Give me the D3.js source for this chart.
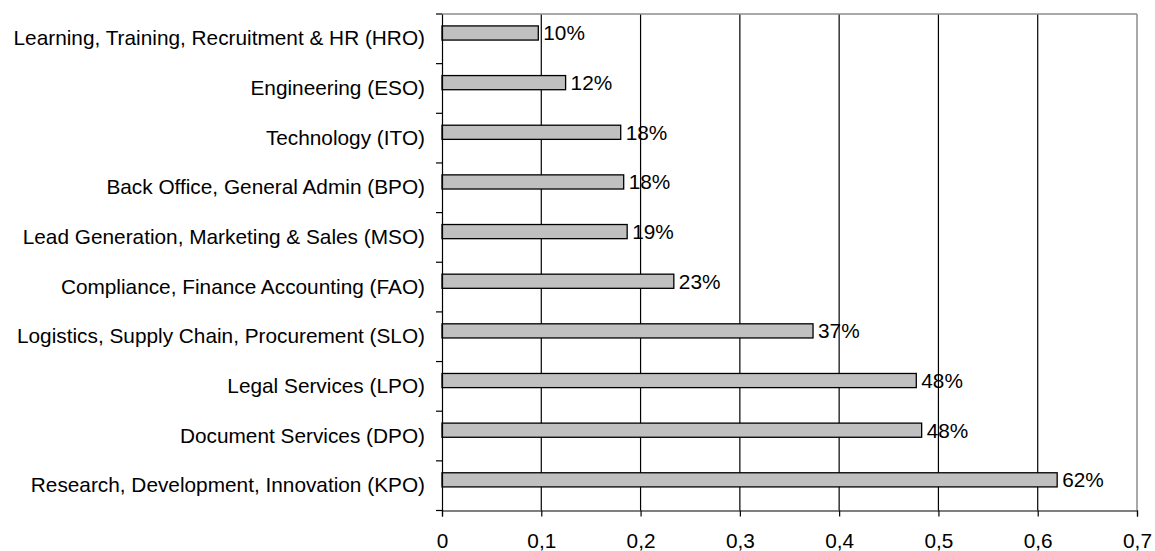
<!DOCTYPE html>
<html><head><meta charset="utf-8">
<script src="https://cdn.jsdelivr.net/npm/d3@7"></script>
<style>
html,body{margin:0;padding:0;background:#fff;}
svg text{font-family:"Liberation Sans",Arial,sans-serif;fill:#000;}
</style></head>
<body><svg id="c" width="1155" height="551"></svg>
<script>
const categories = [
  "Learning, Training, Recruitment & HR (HRO)",
  "Engineering (ESO)",
  "Technology (ITO)",
  "Back Office, General Admin (BPO)",
  "Lead Generation, Marketing & Sales (MSO)",
  "Compliance, Finance Accounting (FAO)",
  "Logistics, Supply Chain, Procurement (SLO)",
  "Legal Services (LPO)",
  "Document Services (DPO)",
  "Research, Development, Innovation (KPO)"
];
const values = [0.097, 0.1245, 0.180, 0.183, 0.1865, 0.2335, 0.3737, 0.4777, 0.4831, 0.6196];
const valueLabels = ["10%","12%","18%","18%","19%","23%","37%","48%","48%","62%"];
const xTicks = [0,0.1,0.2,0.3,0.4,0.5,0.6,0.7];
const xTickLabels = ["0","0,1","0,2","0,3","0,4","0,5","0,6","0,7"];

const L = 442, R = 1137, T = 14, B = 510.5;
const svg = d3.select("#c");
const x = d3.scaleLinear().domain([0,0.7]).range([L,R]);
const y = d3.scaleBand().domain(categories).range([T,B]);
const fs = 20.8;

// gridlines
svg.append("g").selectAll("line").data(xTicks.slice(1,-1)).join("line")
  .attr("x1",d=>x(d)).attr("x2",d=>x(d)).attr("y1",T).attr("y2",B)
  .attr("stroke","#000").attr("stroke-width",1.2);
// top & right border
svg.append("line").attr("x1",L).attr("x2",R).attr("y1",T).attr("y2",T).attr("stroke","#8c8c8c").attr("stroke-width",1.5);
svg.append("line").attr("x1",R).attr("x2",R).attr("y1",T).attr("y2",B).attr("stroke","#8c8c8c").attr("stroke-width",1.5);

// bars
const bw = y.bandwidth();
svg.append("g").selectAll("rect").data(values).join("rect")
  .attr("x",x(0)).attr("y",(d,i)=>y(categories[i])+bw*0.24)
  .attr("width",d=>x(d)-x(0)).attr("height",bw*0.285)
  .attr("fill","#c0c0c0").attr("stroke","#000").attr("stroke-width",1.3);

// value labels
svg.append("g").selectAll("text").data(values).join("text")
  .attr("x",d=>x(d)+5).attr("y",(d,i)=>y(categories[i])+bw*0.3825)
  .attr("dy","0.36em").attr("font-size",fs).text((d,i)=>valueLabels[i]);

// x axis
const xAxis = d3.axisBottom(x).tickValues(xTicks).tickFormat((d,i)=>xTickLabels[i]).tickSize(6).tickPadding(17);
const gx = svg.append("g").attr("transform",`translate(0,${B})`).call(xAxis);
gx.select(".domain").attr("stroke","#000").attr("stroke-width",1.2);
gx.selectAll(".tick line").attr("stroke","#000").attr("stroke-width",1.2);
gx.selectAll(".tick text").attr("font-size",fs).attr("font-family","Liberation Sans, Arial, sans-serif").attr("fill","#000");

// y axis
const yAxis = d3.axisLeft(y).tickSize(0).tickPadding(17);
const gy = svg.append("g").attr("transform",`translate(${L},0)`).call(yAxis);
gy.select(".domain").attr("stroke","#000").attr("stroke-width",1.2);
gy.selectAll(".tick text").attr("font-size",fs).attr("font-family","Liberation Sans, Arial, sans-serif").attr("fill","#000");
// category boundary ticks
const bounds = categories.map(c=>y(c)).concat([B]);
svg.append("g").selectAll("line").data(bounds).join("line")
  .attr("x1",L-6).attr("x2",L).attr("y1",d=>d).attr("y2",d=>d)
  .attr("stroke","#000").attr("stroke-width",1.2);
</script></body></html>
